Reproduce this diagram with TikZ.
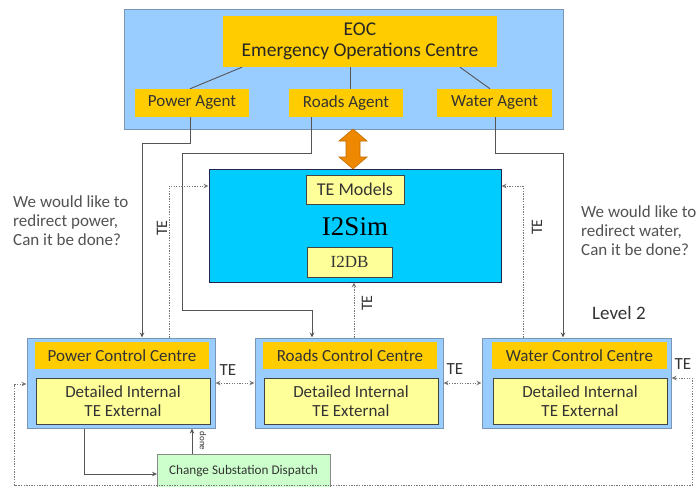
\documentclass[tikz,border=0pt]{standalone}
\usepackage{fontspec}
\setmainfont{Carlito}
\newfontfamily\simfont{Liberation Serif}
\usetikzlibrary{arrows.meta}
\definecolor{outerblue}{HTML}{99CCFF}
\definecolor{outerline}{HTML}{7A96B4}
\definecolor{gold}{HTML}{FFCC00}
\definecolor{paleyellow}{HTML}{FFFF99}
\definecolor{cyanbox}{HTML}{00CCFF}
\definecolor{palegreen}{HTML}{CCFFCC}
\definecolor{orangearrow}{HTML}{EE8800}
\definecolor{txt}{HTML}{333333}
\definecolor{wire}{HTML}{555555}
\tikzset{
  fs/.style={font={\fontsize{#1}{\the\dimexpr#1pt*112/100\relax}\selectfont}},
  boxbase/.style={inner sep=0pt, align=center, text=txt},
  outerbox/.style={boxbase, draw=outerline, fill=outerblue, line width=1pt},
  goldbox/.style={boxbase, fill=gold, fs=17},
  yelbox/.style={boxbase, fill=paleyellow, draw=wire!80!black, line width=0.8pt, fs=17},
  wirel/.style={draw=wire, line width=0.9pt},
  tip/.style={-{Stealth[length=5pt,width=4.5pt]}},
  dots/.style={draw=wire!80, line width=1pt, dash pattern=on 1.3pt off 1.3pt},
  telabel/.style={text=txt, fs=16, inner sep=0pt},
  note/.style={text=txt!85, fs=17, align=left, inner sep=0pt, anchor=west},
}
\begin{document}
\begin{tikzpicture}[x=1pt,y=-1pt]
\useasboundingbox (0,0) rectangle (699,487);
\clip (0,0) rectangle (699,487);
% EOC
\node[outerbox, minimum width=439, minimum height=119] (eoc) at (343.5,69.5) {};
\node[goldbox, font={\fontsize{19.5}{21}\selectfont}, minimum width=274, minimum height=51, text=black!85] (title) at (360,41.5) {EOC\\Emergency Operations Centre};
\node[goldbox, minimum width=114, minimum height=28] (pa) at (192,103) {Power Agent};
\node[goldbox, minimum width=114, minimum height=28] (ra) at (346,103) {Roads Agent};
\node[goldbox, minimum width=115, minimum height=28] (wa) at (494.5,103) {Water Agent};
\draw[wirel] ([xshift=-118pt]title.south) -- ([xshift=-2pt]pa.north);
\draw[wirel] ([xshift=-10pt]title.south) -- ([xshift=4pt]ra.north);
\draw[wirel] ([xshift=100pt]title.south) -- ([xshift=-4.5pt]wa.north);
% I2Sim
\node[boxbase, fill=cyanbox, draw=wire!70!blue!60!black, line width=1pt, minimum width=292, minimum height=113] (sim) at (355,225.5) {};
\node[boxbase, font={\simfont\fontsize{27}{32}\selectfont}, text=black] (simlabel) at (355,227) {I2Sim};
\node[yelbox, fs=18, minimum width=98, minimum height=29] (tem) at (355,189.5) {TE Models};
\node[yelbox, font={\simfont\fontsize{17}{19}\selectfont}, minimum width=85, minimum height=30] (db) at (349.5,262) {I2DB};
% orange double arrow
\coordinate (oa) at (353,129);
\coordinate (ob) at (353,169);
\fill[orangearrow, draw=orangearrow!80!black, line width=0.6pt]
  (oa) -- ++(14,12) -- ++(-7,0) -- ++(0,16) -- ++(7,0) -- (ob) -- ++(-14,-12) -- ++(7,0) -- ++(0,-16) -- ++(-7,0) -- cycle;
% control centres
\foreach \n/\cx/\lab in {p/121/Power, r/349/Roads}{
  \node[outerbox, minimum width=188, minimum height=90] (\n cc) at (\cx,383) {};
  \node[goldbox, minimum width=174, minimum height=27] (\n head) at (\cx+1,355.5) {\lab\ Control Centre};
  \node[yelbox, minimum width=174, minimum height=46] (\n body) at (\cx+2,401) {Detailed Internal\\TE External};
}
\node[outerbox, minimum width=189, minimum height=90] (wcc) at (576.5,383) {};
\node[goldbox, minimum width=175, minimum height=27] (whead) at (579.5,355.5) {Water Control Centre};
\node[yelbox, minimum width=174, minimum height=46] (wbody) at (580,401) {Detailed Internal\\TE External};
% substation
\node[boxbase, fill=palegreen, draw=wire!70, line width=1pt, minimum width=173, minimum height=36, anchor=north west] (csd) at (157,454) {};
\node[text=txt, fs=13.2, inner sep=0pt] (csdlabel) at (243.5,471) {Change Substation Dispatch};
% agent to control centre wires
\draw[wirel, tip] ([xshift=-2pt]pa.south) |- (142,143) -- ([xshift=21pt]pcc.north);
\draw[wirel, tip] ([xshift=-35pt]ra.south) |- (182,153) -- (182,310) -| ([xshift=-37pt]rcc.north);
\draw[wirel, tip] ([xshift=0.5pt]wa.south) |- (563,153) -- ([xshift=-13.5pt]wcc.north);
% TE dotted links
\draw[dots, tip] ([xshift=48pt]pcc.north) |- ([yshift=39.5pt]sim.west);
\node[telabel, rotate=90] (te1) at (162,228) {TE};
\draw[dots, tip] ([xshift=-53.5pt]wcc.north) |- ([yshift=39.5pt]sim.east);
\node[telabel, rotate=90] (te2) at (537,227) {TE};
\draw[dots, tip] ([xshift=5pt]rcc.north) -- ([xshift=-1pt]sim.south);
\node[telabel, rotate=90] (te3) at (367,303) {TE};
\draw[dots, {Stealth[length=5pt,width=4.5pt]}-{Stealth[length=5pt,width=4.5pt]}] (pcc.east) -- (rcc.west);
\node[telabel, fs=17] (te4) at (228,370) {TE};
\draw[dots, {Stealth[length=5pt,width=4.5pt]}-{Stealth[length=5pt,width=4.5pt]}] (rcc.east) -- (wcc.west);
\node[telabel, fs=17] (te5) at (455,369) {TE};
\draw[dots, {Stealth[length=5pt,width=4.5pt]}-{Stealth[length=5pt,width=4.5pt]}] ([yshift=-1pt]pcc.west) -- ++(-12,0) |- (15,485.5) -- (692,485.5) |- ([yshift=5pt]wcc.east);
\node[telabel, fs=17] (te6) at (683,364) {TE};
% substation wires
\draw[wirel, tip] ([xshift=-37pt]pcc.south) |- ([yshift=-20pt]csd.north west);
\draw[wirel, tip] ([xshift=35pt]csd.north west) -- ([xshift=71pt]pcc.south);
\node[text=txt, fs=9, inner sep=0pt, rotate=-90] (done) at (203,441) {done};
% notes
\node[note] (n1) at (13,221) {We would like to\\redirect power,\\Can it be done?};
\node[note] (n2) at (581,231) {We would like to\\redirect water,\\Can it be done?};
\node[text=txt, fs=19, inner sep=0pt, anchor=west] (lvl) at (592,313) {Level 2};
\end{tikzpicture}
\end{document}
